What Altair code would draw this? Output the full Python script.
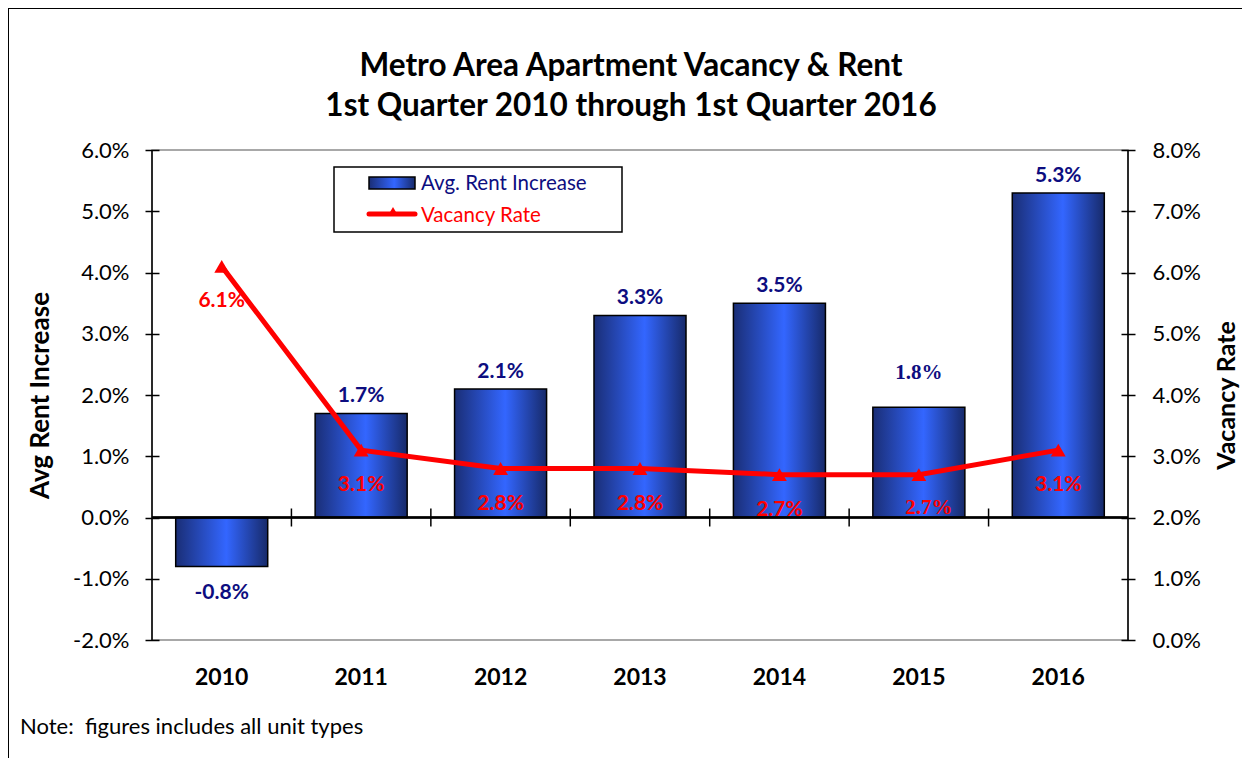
import altair as alt
import pandas as pd

# ---- data ----
years = ["2010", "2011", "2012", "2013", "2014", "2015", "2016"]
rent_increase = [-0.8, 1.7, 2.1, 3.3, 3.5, 1.8, 5.3]
vacancy_rate = [6.1, 3.1, 2.8, 2.8, 2.7, 2.7, 3.1]
left_ticks = [-2, -1, 0, 1, 2, 3, 4, 5, 6]
right_ticks = [0, 1, 2, 3, 4, 5, 6, 7, 8]
legend_labels = ["Avg. Rent Increase", "Vacancy Rate"]
title_lines = ["Metro Area Apartment Vacancy & Rent",
               "1st Quarter 2010 through 1st Quarter 2016"]
note_text = "Note:\u00a0 figures includes all unit types"
serif_year = "2015"

W, H = 976, 490
FONT = "Lato"
NAVY = "#0d0d80"
RED = "#ff0000"


def pct(v):
    return ("-" if v < 0 else "") + f"{abs(v):.1f}%"


df = pd.DataFrame({"year": years, "rent": rent_increase, "vacancy": vacancy_rate})
df["rent_label"] = [pct(v) for v in rent_increase]
df["vac_label"] = [pct(v) for v in vacancy_rate]
df["zero"] = 0.0

bounds = pd.DataFrame({"year": years[1:], "zero": 0.0})
one = pd.DataFrame({"k": [0]})

grad = {"gradient": "linear", "x1": 0, "x2": 1, "y1": 0, "y2": 0,
        "stops": [{"offset": 0, "color": "#1a2e76"},
                  {"offset": 0.55, "color": "#3366ff"},
                  {"offset": 1, "color": "#172a6a"}]}

xscale = alt.Scale(domain=years, paddingInner=0, paddingOuter=0)
x_noaxis = alt.X("year:N", scale=xscale, axis=None)

lscale = alt.Scale(domain=[-2, 6], nice=False, zero=False)
rscale = alt.Scale(domain=[0, 8], nice=False, zero=False)

label_expr = "(datum.value<0?'-':'') + format(abs(datum.value),'.1f') + '%'"

left_axis = alt.Axis(values=left_ticks, labelExpr=label_expr, title="Avg Rent Increase",
                     orient="left", offset=-7, tickSize=14, tickWidth=1.5, tickColor="black",
                     domain=False, grid=False, labelPadding=16, labelFontSize=22,
                     labelFont=FONT, labelColor="black", titleFont=FONT, titleFontSize=26,
                     titleFontWeight="bold", titleColor="black", titlePadding=19)
right_axis = alt.Axis(values=right_ticks, labelExpr=label_expr, title="Vacancy Rate",
                      orient="right", offset=-7, tickSize=14, tickWidth=1.5, tickColor="black",
                      domain=False, grid=False, labelPadding=17, labelFontSize=22,
                      labelFont=FONT, labelColor="black", titleFont=FONT, titleFontSize=25,
                      titleFontWeight="bold", titleColor="black", titlePadding=39,
                      titleAngle=270)

base = alt.Chart(df)

# decorations
frame_l = alt.Chart(one).mark_rule(color="black", strokeWidth=1.5).encode(
    x=alt.value(0), y=alt.value(0), y2=alt.value(H))
frame_r = alt.Chart(one).mark_rule(color="black", strokeWidth=1.5).encode(
    x=alt.value(W), y=alt.value(0), y2=alt.value(H))
outer_left = alt.Chart(one).mark_rule(color="black", strokeWidth=2).encode(
    x=alt.value(-144), y=alt.value(-142), y2=alt.value(620))
outer_top = alt.Chart(one).mark_rule(color="black", strokeWidth=2).encode(
    x=alt.value(-144), x2=alt.value(1100), y=alt.value(-142))
title1 = alt.Chart(one).mark_text(font=FONT, fontSize=31.5, fontWeight="bold", color="black",
                                  align="center", baseline="middle").encode(
    x=alt.value(479), y=alt.value(-83), text=alt.value(title_lines[0]))
title2 = alt.Chart(one).mark_text(font=FONT, fontSize=31.5, fontWeight="bold", color="black",
                                  align="center", baseline="middle").encode(
    x=alt.value(479), y=alt.value(-43), text=alt.value(title_lines[1]))

year_labels = base.mark_text(font=FONT, fontSize=23, fontWeight="bold", color="black",
                             baseline="middle").encode(
    x=x_noaxis, y=alt.value(H + 38), text="year:N")

baseline = base.mark_rule(color="black", strokeWidth=1.5).encode(
    y=alt.Y("zero:Q", scale=lscale, axis=None), x=alt.value(0), x2=alt.value(W))
cat_ticks = alt.Chart(bounds).mark_rule(color="black", strokeWidth=1.5,
                                        yOffset=-9, y2Offset=9).encode(
    x=alt.X("year:N", scale=xscale, axis=None, bandPosition=0),
    y=alt.Y("zero:Q", scale=lscale, axis=None),
    y2="zero:Q")

bars = base.mark_bar(fill=grad, stroke="black", strokeWidth=1.5,
                     width={"band": 0.66}).encode(
    x=x_noaxis, y=alt.Y("rent:Q", scale=lscale, axis=left_axis))

y_rent_noaxis = alt.Y("rent:Q", scale=lscale, axis=None)
bar_lab_pos = base.transform_filter(
    f"datum.rent >= 0 && datum.year != '{serif_year}'").mark_text(
    font=FONT, fontWeight="bold", fontSize=21, color=NAVY, dy=-17, baseline="middle").encode(
    x=x_noaxis, y=y_rent_noaxis, text="rent_label:N")
bar_lab_serif = base.transform_filter(f"datum.year == '{serif_year}'").mark_text(
    font="Liberation Serif", fontWeight="bold", fontSize=21, color=NAVY, dy=-34,
    baseline="middle").encode(x=x_noaxis, y=y_rent_noaxis, text="rent_label:N")
bar_lab_neg = base.transform_filter("datum.rent < 0").mark_text(
    font=FONT, fontWeight="bold", fontSize=21, color=NAVY, dy=26, baseline="middle").encode(
    x=x_noaxis, y=y_rent_noaxis, text="rent_label:N")

# legend (manual, two differently coloured entries)
leg_box = alt.Chart(one).mark_rect(fill="white", stroke="black", strokeWidth=1.5).encode(
    x=alt.value(182), x2=alt.value(470), y=alt.value(17), y2=alt.value(82))
leg_bar = alt.Chart(one).mark_rect(fill=grad, stroke="black", strokeWidth=1.5).encode(
    x=alt.value(217), x2=alt.value(263), y=alt.value(27), y2=alt.value(39))
leg_line = alt.Chart(one).mark_rule(color=RED, strokeWidth=5, strokeCap="round").encode(
    x=alt.value(217), x2=alt.value(263), y=alt.value(64))
leg_tri = alt.Chart(one).mark_point(shape="triangle-up", filled=True, color=RED,
                                    size=90, opacity=1).encode(
    x=alt.value(241), y=alt.value(61))
leg_t1 = alt.Chart(one).mark_text(font=FONT, fontSize=20.5, color=NAVY, align="left",
                                  baseline="middle").encode(
    x=alt.value(269), y=alt.value(34), text=alt.value(legend_labels[0]))
leg_t2 = alt.Chart(one).mark_text(font=FONT, fontSize=20.5, color=RED, align="left",
                                  baseline="middle").encode(
    x=alt.value(269), y=alt.value(66), text=alt.value(legend_labels[1]))
note = alt.Chart(one).mark_text(font=FONT, fontSize=22, color="black", align="left",
                                baseline="middle").encode(
    x=alt.value(-132), y=alt.value(577), text=alt.value(note_text))

# vacancy layers
y_vac_noaxis = alt.Y("vacancy:Q", scale=rscale, axis=None)
line = base.mark_line(color=RED, strokeWidth=5).encode(
    x=x_noaxis, y=alt.Y("vacancy:Q", scale=rscale, axis=right_axis))
pts = base.mark_point(shape="triangle-up", filled=True, color=RED, size=220, opacity=1).encode(
    x=x_noaxis, y=y_vac_noaxis)
vac_lab = base.transform_filter(f"datum.year != '{serif_year}'").mark_text(
    font=FONT, fontWeight="bold", fontSize=21, color=RED, dy=35, baseline="middle").encode(
    x=x_noaxis, y=y_vac_noaxis, text="vac_label:N")
vac_lab_serif = base.transform_filter(f"datum.year == '{serif_year}'").mark_text(
    font="Liberation Serif", fontWeight="bold", fontSize=21, color=RED, dy=33, dx=10,
    baseline="middle").encode(x=x_noaxis, y=y_vac_noaxis, text="vac_label:N")

chart = alt.layer(
    bars, outer_left, outer_top, title1, title2, year_labels, baseline, cat_ticks,
    frame_l, frame_r, bar_lab_pos, bar_lab_serif, bar_lab_neg,
    leg_box, leg_bar, leg_line, leg_tri, leg_t1, leg_t2, note,
    line, pts, vac_lab, vac_lab_serif,
).resolve_scale(y="independent").properties(
    width=W, height=H,
    padding={"left": 144, "top": 142, "right": 114, "bottom": 118},
    autosize=alt.AutoSizeParams(type="none"),
).configure_view(stroke="#8c8c8c", strokeWidth=1.5)

chart.save("out.html", embed_options={"renderer": "svg", "actions": False})
